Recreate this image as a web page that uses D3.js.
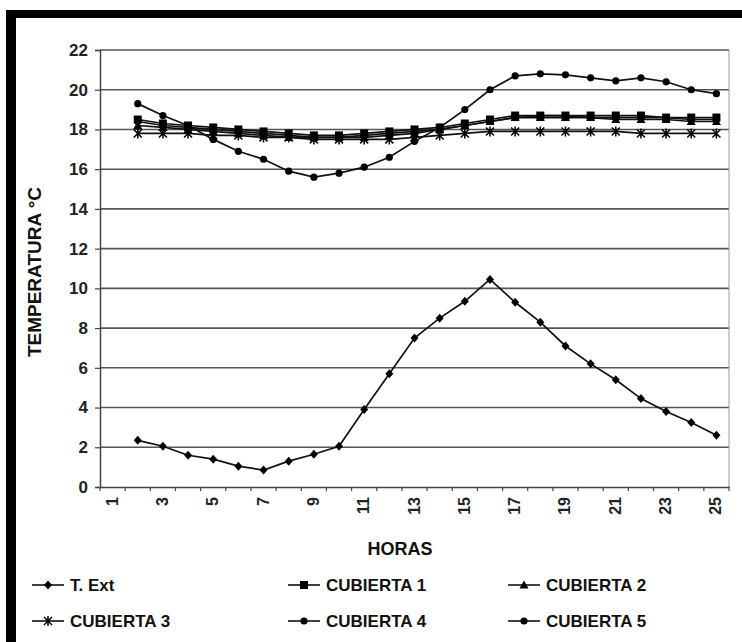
<!DOCTYPE html>
<html><head><meta charset="utf-8">
<script src="https://cdn.jsdelivr.net/npm/d3@7"></script>
<style>html,body{margin:0;padding:0;background:#fff;}svg{display:block;}</style>
</head><body>
<svg id="c" width="742" height="642"></svg>
<script>
const hours = d3.range(1, 26); // categories 1..25
const dataHours = d3.range(2, 26); // data at 2..25
const yTicks = d3.range(0, 23, 2);
const xLabels = hours.filter(h => h % 2 === 1);

const tExt = [2.35, 2.05, 1.6, 1.4, 1.05, 0.85, 1.3, 1.65, 2.05, 3.9, 5.7, 7.5, 8.5, 9.35, 10.45, 9.3, 8.3, 7.1, 6.2, 5.4, 4.45, 3.8, 3.25, 2.6];
const cub1 = [18.5, 18.3, 18.2, 18.1, 18.0, 17.9, 17.8, 17.7, 17.7, 17.8, 17.9, 18.0, 18.1, 18.3, 18.5, 18.7, 18.7, 18.7, 18.7, 18.7, 18.7, 18.6, 18.6, 18.6];
const cub2 = [18.2, 18.1, 18.0, 17.9, 17.8, 17.7, 17.6, 17.6, 17.6, 17.6, 17.7, 17.8, 18.0, 18.2, 18.4, 18.6, 18.6, 18.6, 18.6, 18.5, 18.5, 18.5, 18.4, 18.4];
const cub3 = [17.8, 17.8, 17.8, 17.7, 17.7, 17.6, 17.6, 17.5, 17.5, 17.5, 17.5, 17.6, 17.7, 17.8, 17.9, 17.9, 17.9, 17.9, 17.9, 17.9, 17.8, 17.8, 17.8, 17.8];
const cub4 = [18.4, 18.2, 18.1, 18.0, 17.9, 17.8, 17.7, 17.6, 17.6, 17.7, 17.8, 17.9, 18.0, 18.2, 18.4, 18.6, 18.7, 18.7, 18.6, 18.6, 18.6, 18.6, 18.5, 18.5];
const cub5 = [19.3, 18.7, 18.2, 17.5, 16.9, 16.5, 15.9, 15.6, 15.8, 16.1, 16.6, 17.4, 18.1, 19.0, 20.0, 20.7, 20.8, 20.75, 20.6, 20.45, 20.6, 20.4, 20.0, 19.8];

const seriesNames = ["T. Ext", "CUBIERTA 1", "CUBIERTA 2", "CUBIERTA 3", "CUBIERTA 4", "CUBIERTA 5"];
const seriesValues = [tExt, cub1, cub2, cub3, cub4, cub5];
const seriesMarkers = ["diamond", "square", "triangle", "asterisk", "circle", "circle"];

const svg = d3.select("#c");
const FONT = "'Liberation Sans', Arial, sans-serif";

// frame
svg.append("rect").attr("x", 6).attr("y", 10).attr("width", 736).attr("height", 8).attr("fill", "#000");
svg.append("rect").attr("x", 6).attr("y", 10).attr("width", 10).attr("height", 632).attr("fill", "#000");

const L = 100, R = 729, T = 50, B = 487;
const x = d3.scaleBand().domain(hours).range([L, R]);
const y = d3.scaleLinear().domain([0, 22]).range([B, T]);
const cx = h => x(h) + x.bandwidth() / 2;

// gridlines
svg.append("g").selectAll("line").data(yTicks.filter(v => v > 0)).join("line")
  .attr("x1", L).attr("x2", R).attr("y1", d => y(d)).attr("y2", d => y(d))
  .attr("stroke", "#555").attr("stroke-width", 1.6);
// right border
svg.append("line").attr("x1", R).attr("x2", R).attr("y1", T).attr("y2", B).attr("stroke", "#999").attr("stroke-width", 1);

// y axis
const yAxis = d3.axisLeft(y).tickValues(yTicks).tickSize(5).tickPadding(7);
const gy = svg.append("g").attr("transform", `translate(${L},0)`).call(yAxis);
gy.select(".domain").attr("stroke", "#444").attr("stroke-width", 1.5);
gy.selectAll(".tick line").attr("stroke", "#444").attr("stroke-width", 1.2);
gy.selectAll(".tick text").attr("font-family", FONT).attr("font-size", 17).attr("font-weight", "bold").attr("fill", "#222");

// x axis
const xAxis = d3.axisBottom(x).tickValues(xLabels).tickSize(0).tickPadding(0);
const gx = svg.append("g").attr("transform", `translate(0,${B})`).call(xAxis);
gx.select(".domain").attr("stroke", "#444").attr("stroke-width", 1.5);
gx.selectAll(".tick text")
  .attr("font-family", FONT).attr("font-size", 16).attr("font-weight", "bold").attr("fill", "#222")
  .attr("text-anchor", "end").attr("dy", null)
  .attr("transform", "translate(5,10) rotate(-90)")
  .attr("x", 0).attr("y", 0);
// boundary ticks
svg.append("g").selectAll("line").data(hours.concat([26])).join("line")
  .attr("x1", d => d <= 25 ? x(d) : R).attr("x2", d => d <= 25 ? x(d) : R)
  .attr("y1", B).attr("y2", B + 4).attr("stroke", "#444").attr("stroke-width", 1.2);

// axis titles
svg.append("text").attr("x", 400).attr("y", 555).attr("text-anchor", "middle")
  .attr("font-family", FONT).attr("font-size", 18).attr("font-weight", "bold").attr("fill", "#111").text("HORAS");
svg.append("text").attr("transform", "translate(41,272) rotate(-90)").attr("text-anchor", "middle")
  .attr("font-family", FONT).attr("font-size", 19).attr("font-weight", "bold").attr("fill", "#111").text("TEMPERATURA °C");

function drawMarker(g, type, px, py) {
  const s = 4;
  if (type === "circle") g.append("circle").attr("cx", px).attr("cy", py).attr("r", 3.6).attr("fill", "#000");
  else if (type === "square") g.append("rect").attr("x", px - s).attr("y", py - s).attr("width", 2 * s).attr("height", 2 * s).attr("fill", "#000");
  else if (type === "diamond") g.append("path").attr("d", `M${px},${py - 4.5}L${px + 4},${py}L${px},${py + 4.5}L${px - 4},${py}Z`).attr("fill", "#000");
  else if (type === "triangle") g.append("path").attr("d", `M${px},${py - 4.5}L${px + 4.5},${py + 3.5}L${px - 4.5},${py + 3.5}Z`).attr("fill", "#000");
  else if (type === "asterisk") g.append("path").attr("d", `M${px - 4},${py - 4}L${px + 4},${py + 4}M${px - 4},${py + 4}L${px + 4},${py - 4}M${px},${py - 5}L${px},${py + 5}`).attr("stroke", "#000").attr("stroke-width", 1.5).attr("fill", "none");
}

const line = d3.line().x((d, i) => cx(dataHours[i])).y(d => y(d));
const gs = svg.append("g");
seriesValues.forEach((vals, k) => {
  gs.append("path").attr("d", line(vals)).attr("fill", "none").attr("stroke", "#111").attr("stroke-width", 1.7);
});
seriesValues.forEach((vals, k) => {
  vals.forEach((v, i) => drawMarker(gs, seriesMarkers[k], cx(dataHours[i]), y(v)));
});

// legend
const legX = [32, 288, 508];
const legY = [585, 621];
const gl = svg.append("g");
seriesNames.forEach((name, k) => {
  const lx = legX[k % 3], ly = legY[Math.floor(k / 3)];
  gl.append("line").attr("x1", lx).attr("x2", lx + 32).attr("y1", ly).attr("y2", ly).attr("stroke", "#111").attr("stroke-width", 1.6);
  drawMarker(gl, seriesMarkers[k], lx + 16, ly);
  gl.append("text").attr("x", lx + 38).attr("y", ly + 6).attr("font-family", FONT).attr("font-size", 17)
    .attr("font-weight", "bold").attr("fill", "#111").text(name);
});
</script>
</body></html>
